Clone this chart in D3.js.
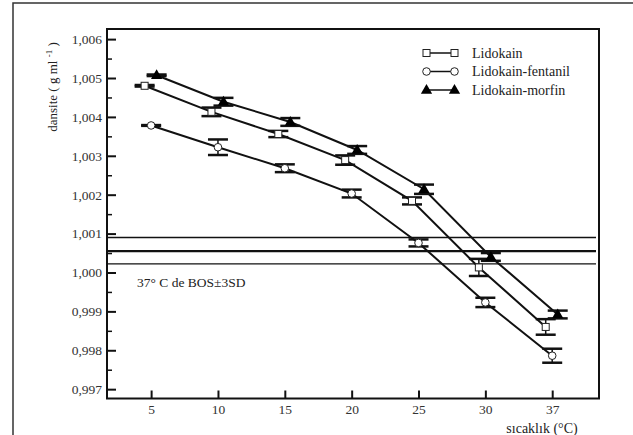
<!DOCTYPE html>
<html>
<head>
<meta charset="utf-8">
<script src="https://cdn.jsdelivr.net/npm/d3@7"></script>
<style>
  body { margin: 0; background: #fff; }
</style>
</head>
<body>
<div id="chart"></div>
<script>
// temperatures (categorical, evenly spaced on the axis)
const temps = ["5", "10", "15", "20", "25", "30", "37"];

// density values (g/ml)
const lidokain     = [1.00480, 1.00413, 1.00356, 1.00289, 1.00184, 1.00013, 0.99860];
const lidokainErr  = [0.00002, 0.00011, 0.00008, 0.00012, 0.00009, 0.00022, 0.00020];
const fentanil     = [1.00378, 1.00322, 1.00268, 1.00203, 1.00076, 0.99923, 0.99786];
const fentanilErr  = [0.00001, 0.00020, 0.00010, 0.00010, 0.00009, 0.00012, 0.00018];
const morfin       = [1.00507, 1.00439, 1.00387, 1.00315, 1.00214, 1.00040, 0.99892];
const morfinErr    = [0.00002, 0.00010, 0.00010, 0.00010, 0.00012, 0.00010, 0.00010];

// CSF density at 37 C: +3SD, mean, -3SD
const bosLines = [1.00090, 1.00055, 1.00022];

const yTicks = [0.997, 0.998, 0.999, 1.000, 1.001, 1.002, 1.003, 1.004, 1.005, 1.006];
const yMinor = [0.9975, 0.9985, 0.9995, 1.0005, 1.0015, 1.0025, 1.0035, 1.0045, 1.0055];

const legendNames = ["Lidokain", "Lidokain-fentanil", "Lidokain-morfin"];

const width = 633, height = 435;
const FONT = "Liberation Serif";

const svg = d3.select("#chart")
    .append("svg")
    .attr("width", width)
    .attr("height", height);

// outer frame of the figure (runs off the right and bottom edges)
svg.append("rect")
    .attr("x", 13).attr("y", 3)
    .attr("width", 660).attr("height", 480)
    .attr("fill", "none")
    .attr("stroke", "#333")
    .attr("stroke-width", 1.5);

const x = d3.scaleLinear().domain([-0.66, 6.7]).range([107, 599]);
const y = d3.scaleLinear().domain([0.99676, 1.00626]).range([398.5, 29]);

const comma = d3.formatLocale({decimal: ",", thousands: ".", grouping: [3], currency: ["", ""]}).format(".3f");

// y axis: major ticks pointing inward
const yAxis = svg.append("g")
    .attr("transform", "translate(" + x.range()[0] + ",0)")
    .call(d3.axisLeft(y).tickValues(yTicks).tickSize(-9).tickPadding(5).tickFormat(comma));
yAxis.select(".domain").remove();
yAxis.selectAll("line").attr("stroke", "#111").attr("stroke-width", 2);
yAxis.selectAll("text").attr("font-family", FONT).attr("font-size", 13.5).attr("fill", "#333");

// y minor ticks
const yMinorAxis = svg.append("g")
    .attr("transform", "translate(" + x.range()[0] + ",0)")
    .call(d3.axisLeft(y).tickValues(yMinor).tickSize(-5).tickFormat(""));
yMinorAxis.select(".domain").remove();
yMinorAxis.selectAll("line").attr("stroke", "#111").attr("stroke-width", 1.5);

// x axis
const xAxis = svg.append("g")
    .attr("transform", "translate(0," + y.range()[0] + ")")
    .call(d3.axisBottom(x).tickValues(d3.range(temps.length)).tickSize(-8).tickPadding(6)
        .tickFormat(i => temps[i]));
xAxis.select(".domain").remove();
xAxis.selectAll("line").attr("stroke", "#111").attr("stroke-width", 2);
xAxis.selectAll("text").attr("font-family", FONT).attr("font-size", 13.5).attr("fill", "#333");

// plot box
svg.append("rect")
    .attr("x", x.range()[0]).attr("y", y.range()[1])
    .attr("width", x.range()[1] - x.range()[0])
    .attr("height", y.range()[0] - y.range()[1])
    .attr("fill", "none")
    .attr("stroke", "#111")
    .attr("stroke-width", 2);

// CSF reference lines
svg.selectAll(".bos")
    .data(bosLines)
    .enter()
    .append("line")
    .attr("x1", x.range()[0]).attr("x2", x.range()[1] - 3)
    .attr("y1", d => y(d)).attr("y2", d => y(d))
    .attr("stroke", "#111")
    .attr("stroke-width", (d, i) => i === 1 ? 2.4 : 1.3);

svg.append("text")
    .attr("x", 137).attr("y", 287)
    .attr("font-family", FONT).attr("font-size", 13.5).attr("fill", "#222")
    .text("37° C de BOS±3SD");

// series
const series = [
    {name: legendNames[0], values: lidokain, err: lidokainErr, shape: "square", dx: -6.5},
    {name: legendNames[1], values: fentanil, err: fentanilErr, shape: "circle", dx: 0},
    {name: legendNames[2], values: morfin,   err: morfinErr,   shape: "triangle", dx: 5.5}
];

function drawMarker(g, shape, cx, cy) {
    if (shape === "square") {
        g.append("rect")
            .attr("x", cx - 3.5).attr("y", cy - 3.5)
            .attr("width", 7).attr("height", 7)
            .attr("fill", "#fff").attr("stroke", "#222").attr("stroke-width", 1);
    } else if (shape === "circle") {
        g.append("circle")
            .attr("cx", cx).attr("cy", cy).attr("r", 3.8)
            .attr("fill", "#fff").attr("stroke", "#222").attr("stroke-width", 1);
    } else {
        g.append("path")
            .attr("d", d3.symbol(d3.symbolTriangle, 55)())
            .attr("transform", "translate(" + cx + "," + (cy + 0.5) + ")")
            .attr("fill", "#000");
    }
}

const line = d3.line();

series.forEach(function (s) {
    const pts = s.values.map((v, i) => [x(i) + s.dx, y(v)]);
    svg.append("path")
        .attr("d", line(pts))
        .attr("fill", "none")
        .attr("stroke", "#111")
        .attr("stroke-width", 2);

    const eb = svg.append("g");
    s.values.forEach(function (v, i) {
        const cx = x(i) + s.dx;
        const top = y(v + s.err[i]), bot = y(v - s.err[i]);
        eb.append("line")
            .attr("x1", cx).attr("x2", cx).attr("y1", top).attr("y2", bot)
            .attr("stroke", "#111").attr("stroke-width", 1.5);
        [top, bot].forEach(function (cy) {
            eb.append("line")
                .attr("x1", cx - 10).attr("x2", cx + 10)
                .attr("y1", cy).attr("y2", cy)
                .attr("stroke", "#111").attr("stroke-width", 2.5);
        });
    });

    const mk = svg.append("g");
    pts.forEach(p => drawMarker(mk, s.shape, p[0], p[1]));
});

// legend
const legend = svg.append("g");
series.forEach(function (s, i) {
    const ly = 53 + i * 18.5;
    legend.append("line")
        .attr("x1", 426.5).attr("x2", 454.5).attr("y1", ly).attr("y2", ly)
        .attr("stroke", "#111").attr("stroke-width", 1.5);
    drawMarker(legend, s.shape, 426.5, ly);
    drawMarker(legend, s.shape, 454.5, ly);
    legend.append("text")
        .attr("x", 472).attr("y", ly + 4.5)
        .attr("font-family", FONT).attr("font-size", 14).attr("fill", "#222")
        .text(s.name);
});

// axis titles
const yTitle = svg.append("text")
    .attr("transform", "translate(57,87) rotate(-90)")
    .attr("text-anchor", "middle")
    .attr("font-family", FONT).attr("font-size", 13).attr("fill", "#222");
yTitle.append("tspan").text("dansite ( g ml ");
yTitle.append("tspan").attr("dy", -5).attr("font-size", 9).text("-1");
yTitle.append("tspan").attr("dy", 5).text(" )");

svg.append("text")
    .attr("x", 542).attr("y", 433)
    .attr("text-anchor", "middle")
    .attr("font-family", FONT).attr("font-size", 14).attr("fill", "#222")
    .text("sıcaklık (°C)");
</script>
</body>
</html>
